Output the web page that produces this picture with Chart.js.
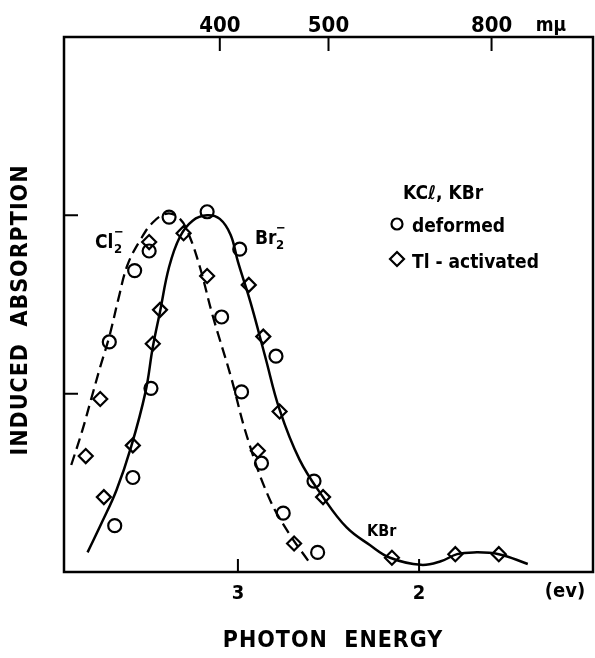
<!DOCTYPE html>
<html>
<head>
<meta charset="utf-8">
<script src="https://cdn.jsdelivr.net/npm/chart.js@4.4.0/dist/chart.umd.min.js"></script>
<style>
  html, body { margin: 0; padding: 0; background: #fff; }
  #wrap { width: 595px; height: 658px; }
</style>
</head>
<body>
<div id="wrap"><canvas id="graficaAbsorcion"></canvas></div>
<script>
// valores: energia del foton (eV) y absorcion inducida
const curvaBrE = [3.83, 3.75, 3.67, 3.59, 3.51, 3.47, 3.43, 3.38, 3.32, 3.25, 3.17, 3.10, 3.04, 3.00, 2.93, 2.85, 2.77, 2.66, 2.53, 2.40, 2.27, 2.16, 1.99, 1.88, 1.79, 1.70, 1.56, 1.40];
const curvaBrA = [0.11, 0.28, 0.46, 0.70, 1.01, 1.26, 1.46, 1.71, 1.88, 1.97, 2.00, 1.98, 1.89, 1.74, 1.51, 1.21, 0.91, 0.63, 0.42, 0.25, 0.15, 0.08, 0.04, 0.06, 0.10, 0.11, 0.10, 0.045];

const curvaClE = [3.92, 3.86, 3.81, 3.76, 3.71, 3.66, 3.61, 3.54, 3.47, 3.39, 3.32, 3.27, 3.21, 3.14, 3.04, 2.95, 2.83, 2.72, 2.61];
const curvaClA = [0.60, 0.79, 0.97, 1.15, 1.32, 1.53, 1.72, 1.86, 1.96, 2.01, 1.98, 1.89, 1.71, 1.44, 1.10, 0.76, 0.42, 0.22, 0.06];

const deformadoE = [3.68, 3.58, 3.48, 3.71, 3.57, 3.49, 3.38, 3.17, 2.99, 3.09, 2.79, 2.98, 2.87, 2.75, 2.58, 2.56];
const deformadoA = [0.26, 0.53, 1.03, 1.29, 1.69, 1.80, 1.99, 2.02, 1.81, 1.43, 1.21, 1.01, 0.61, 0.33, 0.51, 0.11];

const activadoE = [3.84, 3.76, 3.74, 3.58, 3.47, 3.43, 3.49, 3.30, 3.17, 2.94, 2.86, 2.77, 2.89, 2.53, 2.69, 2.15, 1.80, 1.56];
const activadoA = [0.65, 0.97, 0.42, 0.71, 1.28, 1.47, 1.85, 1.90, 1.66, 1.61, 1.32, 0.90, 0.68, 0.42, 0.16, 0.08, 0.10, 0.10];

const ticksEnergia = [3, 2];
const ticksAbsorcion = [1, 2];
const ticksOndaE = [3.1, 2.5, 1.6];
const ticksOndaLabels = ['400', '500', '800'];

const FUENTE = '"DejaVu Sans Condensed", "DejaVu Sans", sans-serif';

function puntos(xs, ys) {
    return xs.map(function(x, i) { return { x: x, y: ys[i] }; });
}

const ejesYTextos = {
    id: 'ejesYTextos',
    afterDraw: function(chart) {
        const ctx = chart.ctx;
        const a = chart.chartArea;
        const sx = chart.scales.x;
        const sy = chart.scales.y;
        ctx.save();
        ctx.strokeStyle = '#000';
        ctx.fillStyle = '#000';
        ctx.lineWidth = 2.5;
        ctx.strokeRect(a.left, a.top, a.right - a.left, a.bottom - a.top);

        ctx.lineWidth = 2;
        ctx.beginPath();
        ticksEnergia.forEach(function(v) {
            const px = sx.getPixelForValue(v);
            ctx.moveTo(px, a.bottom); ctx.lineTo(px, a.bottom - 13);
        });
        ticksOndaE.forEach(function(v) {
            const px = sx.getPixelForValue(v);
            ctx.moveTo(px, a.top); ctx.lineTo(px, a.top + 14);
        });
        ticksAbsorcion.forEach(function(v) {
            const py = sy.getPixelForValue(v);
            ctx.moveTo(a.left, py); ctx.lineTo(a.left + 14, py);
        });
        ctx.stroke();

        ctx.textAlign = 'center';
        ctx.textBaseline = 'alphabetic';
        ctx.font = 'bold 20px ' + FUENTE;
        ticksEnergia.forEach(function(v) {
            ctx.fillText(String(v), sx.getPixelForValue(v), 599);
        });
        ctx.fillText('(ev)', 565, 597);
        ctx.font = 'bold 22px ' + FUENTE;
        ticksOndaE.forEach(function(v, i) {
            ctx.fillText(ticksOndaLabels[i], sx.getPixelForValue(v), 32);
        });
        ctx.font = 'bold 19px ' + FUENTE;
        ctx.fillText('m\u03bc', 551, 31);

        ctx.font = 'bold 23px ' + FUENTE;
        ctx.letterSpacing = '1px';
        ctx.fillText('PHOTON  ENERGY', 333, 647);
        ctx.save();
        ctx.translate(27, 310);
        ctx.rotate(-Math.PI / 2);
        ctx.fillText('INDUCED  ABSORPTION', 0, 0);
        ctx.restore();
        ctx.letterSpacing = '0px';

        // etiquetas de las bandas
        ctx.textAlign = 'left';
        ctx.font = 'bold 19px ' + FUENTE;
        ctx.fillText('Cl', 95, 248);
        ctx.fillText('Br', 255, 244);
        ctx.font = 'bold 13px ' + FUENTE;
        ctx.fillText('2', 114, 253);
        ctx.fillText('2', 276, 249);
        ctx.fillText('\u2212', 114, 236);
        ctx.fillText('\u2212', 276, 232);
        ctx.font = 'bold 16px ' + FUENTE;
        ctx.fillText('KBr', 367, 536);

        // leyenda
        ctx.font = 'bold 19px ' + FUENTE;
        ctx.fillText('KC\u2113, KBr', 403, 199);
        ctx.fillText('deformed', 412, 232);
        ctx.fillText('Tl - activated', 412, 268);
        ctx.lineWidth = 2.2;
        ctx.beginPath();
        ctx.arc(397, 224, 5.5, 0, Math.PI * 2);
        ctx.stroke();
        ctx.beginPath();
        ctx.moveTo(397, 252); ctx.lineTo(404, 259); ctx.lineTo(397, 266); ctx.lineTo(390, 259);
        ctx.closePath();
        ctx.stroke();
        ctx.restore();
    }
};

new Chart(document.getElementById('graficaAbsorcion'), {
    type: 'scatter',
    data: {
        datasets: [{
            label: 'Br2-',
            data: puntos(curvaBrE, curvaBrA),
            showLine: true,
            borderColor: '#000',
            borderWidth: 2.5,
            pointRadius: 0,
            tension: 0.4
        }, {
            label: 'Cl2-',
            data: puntos(curvaClE, curvaClA),
            showLine: true,
            borderColor: '#000',
            borderWidth: 2.3,
            borderDash: [11, 6],
            pointRadius: 0,
            tension: 0.4
        }, {
            label: 'deformed',
            data: puntos(deformadoE, deformadoA),
            pointStyle: 'circle',
            pointRadius: 6.5,
            pointBorderWidth: 2.2,
            pointBorderColor: '#000',
            pointBackgroundColor: 'rgba(255,255,255,0)'
        }, {
            label: 'Tl - activated',
            data: puntos(activadoE, activadoA),
            pointStyle: 'rectRot',
            pointRadius: 7,
            pointBorderWidth: 2.2,
            pointBorderColor: '#000',
            pointBackgroundColor: 'rgba(255,255,255,0)'
        }]
    },
    options: {
        responsive: true,
        maintainAspectRatio: false,
        animation: false,
        layout: {
            autoPadding: false,
            padding: { left: 64, right: 2, top: 37, bottom: 86 }
        },
        scales: {
            x: { type: 'linear', reverse: true, min: 1.04, max: 3.96, display: false },
            y: { type: 'linear', min: 0, max: 3, display: false }
        },
        plugins: {
            legend: { display: false },
            tooltip: { enabled: false }
        }
    },
    plugins: [ejesYTextos]
});
</script>
</body>
</html>
